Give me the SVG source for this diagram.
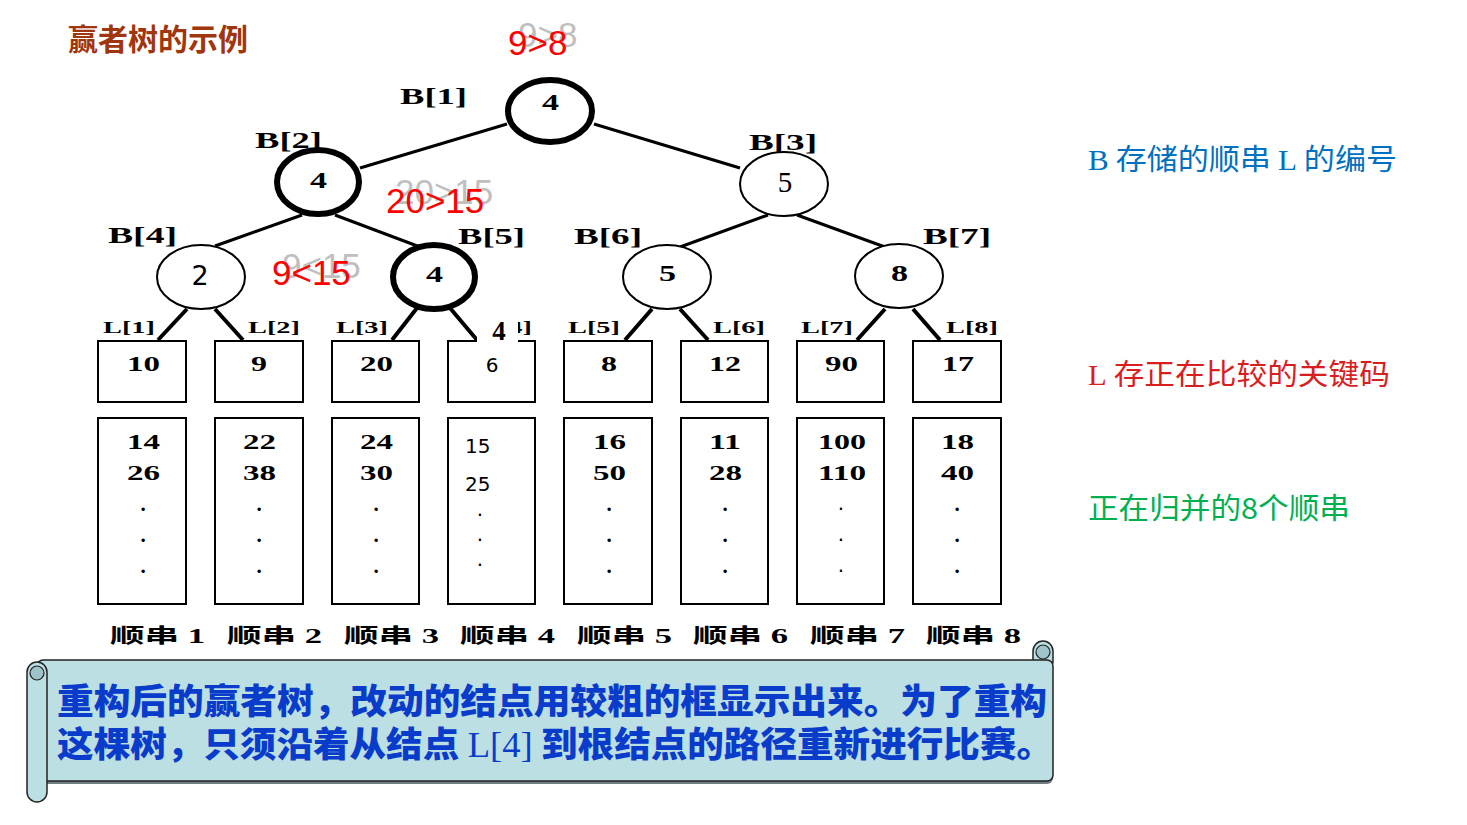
<svg xmlns="http://www.w3.org/2000/svg" width="1467" height="825" viewBox="0 0 1467 825">
<style>
.bl{font-family:"Liberation Serif","Noto Sans CJK SC",serif;font-weight:bold;font-size:24px;fill:#000}
.ll{font-family:"Liberation Serif",serif;font-weight:bold;font-size:17px;fill:#000}
.v{font-family:"Liberation Serif",serif;font-weight:bold;font-size:21px;fill:#000}
.vs{font-family:"DejaVu Sans","Liberation Sans",sans-serif;font-size:20px;fill:#000}
.nv{font-family:"Liberation Serif",serif;font-weight:bold;font-size:23px;fill:#000}
.thick{fill:#fff;stroke:#000;stroke-width:6}
.thin{fill:#fff;stroke:#000;stroke-width:2}
.box{fill:#fff;stroke:#000;stroke-width:2}
.edge{stroke:#000;stroke-width:3;fill:none}
.leaf{stroke:#000;stroke-width:4;fill:none}
.red{font-family:"Liberation Sans",sans-serif;font-size:35px;fill:#ff0000}
.gray{font-family:"Liberation Sans",sans-serif;font-size:35px;fill:#bfbfbf}
.run{font-family:"Liberation Serif","Noto Sans CJK SC",serif;font-weight:bold;font-size:20px;fill:#000}
.side{font-family:"Noto Sans CJK SC",sans-serif;font-size:29px}
.ser{font-family:"Liberation Serif",serif}
.ban{font-family:"Noto Sans CJK SC",sans-serif;font-weight:900;font-size:35px;fill:#0a3ccb}
</style>
<rect width="1467" height="825" fill="#fff"/>
<text x="68" y="50" font-family="Noto Sans CJK SC,sans-serif" font-weight="bold" font-size="30" fill="#a0360e">赢者树的示例</text>

<g id="connectors">
<line class="edge" x1="360" y1="168" x2="507" y2="124"/>
<line class="edge" x1="594" y1="124" x2="740" y2="168"/>
<line class="edge" x1="215" y1="246" x2="302" y2="215"/>
<line class="edge" x1="335" y1="215" x2="420" y2="247"/>
<line class="edge" x1="680" y1="247" x2="768" y2="215"/>
<line class="edge" x1="797" y1="215" x2="885" y2="247"/>
<line class="leaf" x1="187" y1="309" x2="158" y2="340"/>
<line class="leaf" x1="215" y1="309" x2="243" y2="340"/>
<line class="leaf" x1="417" y1="308" x2="392" y2="340"/>
<line class="leaf" x1="450" y1="308" x2="477" y2="340"/>
<line class="leaf" x1="652" y1="309" x2="625" y2="340"/>
<line class="leaf" x1="680" y1="309" x2="708" y2="340"/>
<line class="leaf" x1="885" y1="309" x2="857" y2="340"/>
<line class="leaf" x1="913" y1="309" x2="940" y2="340"/>
</g>

<g id="labels-ghost">
<text class="gray" x="518" y="47">9&gt;8</text>
<text class="red" x="508" y="55">9&gt;8</text>
<text class="gray" x="395" y="204">20&gt;15</text>
<text class="red" x="386" y="213">20&gt;15</text>
<text class="gray" x="282" y="278">9&lt;15</text>
<text class="red" x="272" y="285">9&lt;15</text>
</g>

<g id="B1"><text class="bl" x="400" y="104" textLength="67" lengthAdjust="spacingAndGlyphs">B[1]</text><ellipse class="thick" cx="550" cy="111" rx="42" ry="31"/><text class="nv" x="542" y="110" textLength="17" lengthAdjust="spacingAndGlyphs">4</text></g>
<g id="B2"><text class="bl" x="255" y="148" textLength="67" lengthAdjust="spacingAndGlyphs">B[2]</text><ellipse class="thick" cx="318" cy="182" rx="41" ry="32"/><text class="nv" x="310" y="188" textLength="17" lengthAdjust="spacingAndGlyphs">4</text></g>
<g id="B3"><text class="bl" x="749" y="150" textLength="68" lengthAdjust="spacingAndGlyphs">B[3]</text><ellipse class="thin" cx="784" cy="184" rx="44" ry="32"/><text x="785" y="192" text-anchor="middle" font-family="Liberation Serif,serif" font-size="29">5</text></g>
<g id="B4"><text class="bl" x="108" y="243" textLength="69" lengthAdjust="spacingAndGlyphs">B[4]</text><ellipse class="thin" cx="201" cy="277" rx="44" ry="32"/><text x="200" y="285" text-anchor="middle" font-family="DejaVu Sans,sans-serif" font-size="27">2</text></g>
<g id="B5"><text class="bl" x="458" y="244" textLength="67" lengthAdjust="spacingAndGlyphs">B[5]</text><ellipse class="thick" cx="434" cy="277" rx="41" ry="32"/><text class="nv" x="426" y="282" textLength="17" lengthAdjust="spacingAndGlyphs">4</text></g>
<g id="B6"><text class="bl" x="574" y="244" textLength="68" lengthAdjust="spacingAndGlyphs">B[6]</text><ellipse class="thin" cx="667" cy="277" rx="44" ry="32"/><text class="nv" x="659" y="281" textLength="17" lengthAdjust="spacingAndGlyphs">5</text></g>
<g id="B7"><text class="bl" x="923" y="244" textLength="68" lengthAdjust="spacingAndGlyphs">B[7]</text><ellipse class="thin" cx="899" cy="276" rx="44" ry="32"/><text class="nv" x="891" y="281" textLength="17" lengthAdjust="spacingAndGlyphs">8</text></g>

<g id="L1"><text class="ll" x="103" y="333" textLength="52" lengthAdjust="spacingAndGlyphs">L[1]</text><rect class="box" x="98" y="341" width="88" height="61"/><text class="v" x="127" y="371" textLength="33" lengthAdjust="spacingAndGlyphs">10</text></g>
<g id="L2"><text class="ll" x="248" y="333" textLength="52" lengthAdjust="spacingAndGlyphs">L[2]</text><rect class="box" x="215" y="341" width="88" height="61"/><text class="v" x="251" y="371" textLength="16" lengthAdjust="spacingAndGlyphs">9</text></g>
<g id="L3"><text class="ll" x="336" y="333" textLength="52" lengthAdjust="spacingAndGlyphs">L[3]</text><rect class="box" x="332" y="341" width="87" height="61"/><text class="v" x="360" y="371" textLength="33" lengthAdjust="spacingAndGlyphs">20</text></g>
<g id="L4"><text class="ll" x="480" y="333" textLength="52" lengthAdjust="spacingAndGlyphs">L[4]</text><rect class="box" x="448" y="341" width="87" height="61"/><rect x="477" y="312" width="41" height="31" fill="#fff"/><text x="499" y="340" text-anchor="middle" font-family="Liberation Serif,serif" font-weight="bold" font-size="27">4</text><text class="vs" x="492" y="372" text-anchor="middle" font-size="22">6</text></g>
<g id="L5"><text class="ll" x="568" y="333" textLength="52" lengthAdjust="spacingAndGlyphs">L[5]</text><rect class="box" x="564" y="341" width="88" height="61"/><text class="v" x="601" y="371" textLength="16" lengthAdjust="spacingAndGlyphs">8</text></g>
<g id="L6"><text class="ll" x="713" y="333" textLength="52" lengthAdjust="spacingAndGlyphs">L[6]</text><rect class="box" x="681" y="341" width="87" height="61"/><text class="v" x="709" y="371" textLength="32" lengthAdjust="spacingAndGlyphs">12</text></g>
<g id="L7"><text class="ll" x="801" y="333" textLength="52" lengthAdjust="spacingAndGlyphs">L[7]</text><rect class="box" x="797" y="341" width="87" height="61"/><text class="v" x="825" y="371" textLength="33" lengthAdjust="spacingAndGlyphs">90</text></g>
<g id="L8"><text class="ll" x="946" y="333" textLength="52" lengthAdjust="spacingAndGlyphs">L[8]</text><rect class="box" x="913" y="341" width="88" height="61"/><text class="v" x="942" y="371" textLength="32" lengthAdjust="spacingAndGlyphs">17</text></g>

<g id="run1"><rect class="box" x="98" y="418" width="88" height="186"/><text class="v" x="127" y="449" textLength="33" lengthAdjust="spacingAndGlyphs">14</text><text class="v" x="127" y="480" textLength="33" lengthAdjust="spacingAndGlyphs">26</text><text class="v" x="143" y="511" text-anchor="middle">.</text><text class="v" x="143" y="542" text-anchor="middle">.</text><text class="v" x="143" y="573" text-anchor="middle">.</text><text class="run" x="110" y="643" textLength="95" lengthAdjust="spacingAndGlyphs">顺串 1</text></g>
<g id="run2"><rect class="box" x="215" y="418" width="88" height="186"/><text class="v" x="243" y="449" textLength="33" lengthAdjust="spacingAndGlyphs">22</text><text class="v" x="243" y="480" textLength="33" lengthAdjust="spacingAndGlyphs">38</text><text class="v" x="259" y="511" text-anchor="middle">.</text><text class="v" x="259" y="542" text-anchor="middle">.</text><text class="v" x="259" y="573" text-anchor="middle">.</text><text class="run" x="227" y="643" textLength="95" lengthAdjust="spacingAndGlyphs">顺串 2</text></g>
<g id="run3"><rect class="box" x="332" y="418" width="87" height="186"/><text class="v" x="360" y="449" textLength="33" lengthAdjust="spacingAndGlyphs">24</text><text class="v" x="360" y="480" textLength="33" lengthAdjust="spacingAndGlyphs">30</text><text class="v" x="376" y="511" text-anchor="middle">.</text><text class="v" x="376" y="542" text-anchor="middle">.</text><text class="v" x="376" y="573" text-anchor="middle">.</text><text class="run" x="344" y="643" textLength="95" lengthAdjust="spacingAndGlyphs">顺串 3</text></g>
<g id="run4"><rect class="box" x="448" y="418" width="87" height="186"/><text class="vs" x="465" y="453">15</text><text class="vs" x="465" y="491">25</text><text class="vs" x="480" y="516" text-anchor="middle">.</text><text class="vs" x="480" y="541" text-anchor="middle">.</text><text class="vs" x="480" y="566" text-anchor="middle">.</text><text class="run" x="460" y="643" textLength="95" lengthAdjust="spacingAndGlyphs">顺串 4</text></g>
<g id="run5"><rect class="box" x="564" y="418" width="88" height="186"/><text class="v" x="593" y="449" textLength="33" lengthAdjust="spacingAndGlyphs">16</text><text class="v" x="593" y="480" textLength="33" lengthAdjust="spacingAndGlyphs">50</text><text class="v" x="609" y="511" text-anchor="middle">.</text><text class="v" x="609" y="542" text-anchor="middle">.</text><text class="v" x="609" y="573" text-anchor="middle">.</text><text class="run" x="577" y="643" textLength="95" lengthAdjust="spacingAndGlyphs">顺串 5</text></g>
<g id="run6"><rect class="box" x="681" y="418" width="87" height="186"/><text class="v" x="709" y="449" textLength="32" lengthAdjust="spacingAndGlyphs">11</text><text class="v" x="709" y="480" textLength="33" lengthAdjust="spacingAndGlyphs">28</text><text class="v" x="725" y="511" text-anchor="middle">.</text><text class="v" x="725" y="542" text-anchor="middle">.</text><text class="v" x="725" y="573" text-anchor="middle">.</text><text class="run" x="693" y="643" textLength="95" lengthAdjust="spacingAndGlyphs">顺串 6</text></g>
<g id="run7"><rect class="box" x="797" y="418" width="87" height="186"/><text class="v" x="818" y="449" textLength="48" lengthAdjust="spacingAndGlyphs">100</text><text class="v" x="818" y="480" textLength="48" lengthAdjust="spacingAndGlyphs">110</text><text class="vs" x="841" y="510" text-anchor="middle" font-size="16">.</text><text class="vs" x="841" y="541" text-anchor="middle" font-size="16">.</text><text class="vs" x="841" y="572" text-anchor="middle" font-size="16">.</text><text class="run" x="810" y="643" textLength="95" lengthAdjust="spacingAndGlyphs">顺串 7</text></g>
<g id="run8"><rect class="box" x="913" y="418" width="88" height="186"/><text class="v" x="941" y="449" textLength="33" lengthAdjust="spacingAndGlyphs">18</text><text class="v" x="941" y="480" textLength="33" lengthAdjust="spacingAndGlyphs">40</text><text class="v" x="957" y="511" text-anchor="middle">.</text><text class="v" x="957" y="542" text-anchor="middle">.</text><text class="v" x="957" y="573" text-anchor="middle">.</text><text class="run" x="926" y="643" textLength="95" lengthAdjust="spacingAndGlyphs">顺串 8</text></g>

<g id="banner">
<rect x="1033" y="641" width="20" height="30" rx="10" fill="#bcdfe3" stroke="#222" stroke-width="1.5"/>
<circle cx="1043" cy="652" r="7" fill="#9ec3c8" stroke="#222" stroke-width="1.2"/>
<rect x="37" y="662" width="1016" height="122" rx="6" fill="#6f7f81"/>
<rect x="37" y="660" width="1016" height="121" rx="6" fill="#bcdfe3" stroke="#222" stroke-width="1.5"/>
<rect x="27" y="662" width="20" height="140" rx="10" fill="#bcdfe3" stroke="#222" stroke-width="1.5"/>
<circle cx="37" cy="673" r="7" fill="#9ec3c8" stroke="#222" stroke-width="1.2"/>
<text class="ban" x="57" y="714" textLength="990" lengthAdjust="spacingAndGlyphs">重构后的赢者树，改动的结点用较粗的框显示出来。为了重构</text>
<text class="ban" x="57" y="757" textLength="996" lengthAdjust="spacingAndGlyphs">这棵树，只须沿着从结点 <tspan class="ser" font-weight="normal">L[4]</tspan> 到根结点的路径重新进行比赛。</text>
</g>

<g id="legend">
<text class="side" x="1088" y="170" fill="#0070c0" textLength="309" lengthAdjust="spacingAndGlyphs"><tspan class="ser">B</tspan> 存储的顺串 <tspan class="ser">L</tspan> 的编号</text>
<text class="side" x="1088" y="385" fill="#d81e1e" textLength="302" lengthAdjust="spacingAndGlyphs"><tspan class="ser">L</tspan> 存正在比较的关键码</text>
<text class="side" x="1088" y="519" fill="#00b050" textLength="262" lengthAdjust="spacingAndGlyphs">正在归并的8个顺串</text>
</g>
</svg>
